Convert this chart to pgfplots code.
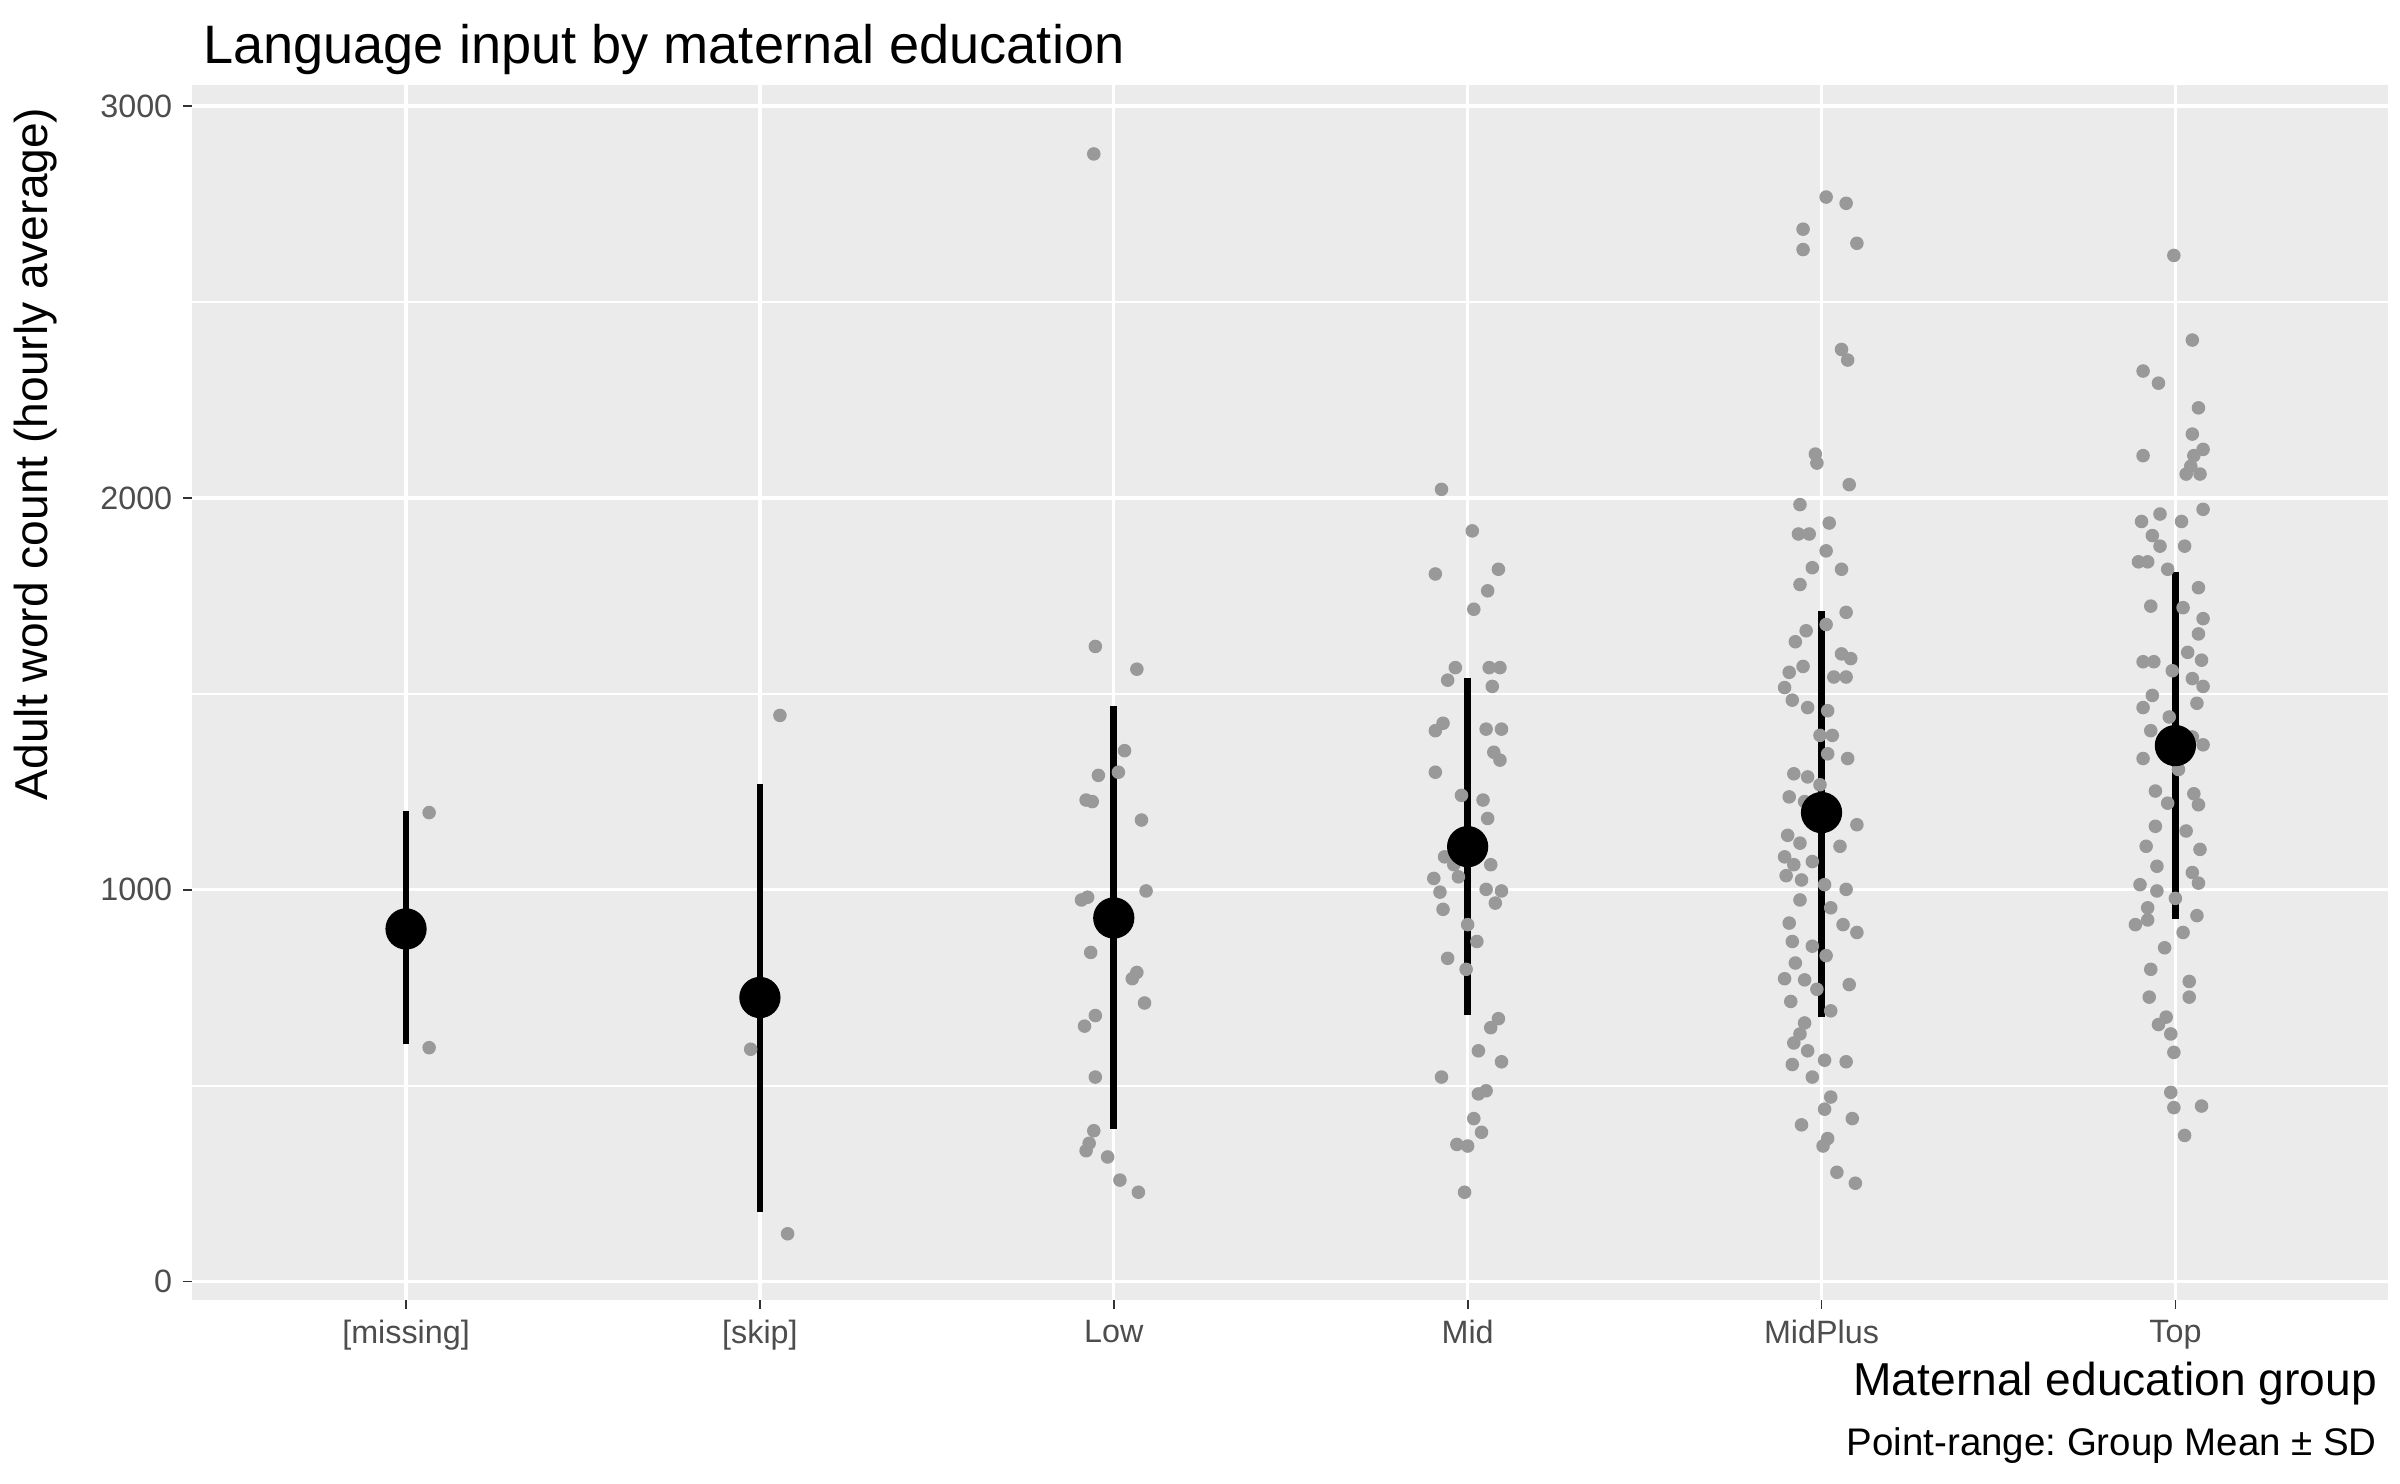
\documentclass[border=0pt]{standalone}
\usepackage{pgfplots}
\usepackage{pgfplotstable}
\pgfplotsset{compat=1.18}
\usepackage{fontspec}
\setmainfont{Liberation Sans}
\frenchspacing
\definecolor{panel}{HTML}{EBEBEB}
\definecolor{pts}{HTML}{999999}
\definecolor{tk}{HTML}{4D4D4D}
\pgfplotstableread{
g dx y
0 15 1197
0 15 597
1 13 1445
1 -6 593
1 18 122
2 -13 2878
2 -12 1621
2 15 1563
2 7 1355
2 3 1300
2 -10 1292
2 -18 1229
2 -14 1225
2 18 1178
2 21 997
2 -17 981
2 -21 974
2 -15 840
2 15 789
2 12 773
2 20 711
2 -12 679
2 -19 652
2 -12 522
2 -13 385
2 -16 353
2 -18 334
2 -4 318
2 4 259
2 16 228
3 -17 2022
3 3 1916
3 -21 1806
3 20 1818
3 13 1763
3 4 1716
3 -13 1535
3 -8 1567
3 14 1567
3 21 1567
3 16 1519
3 -16 1425
3 -21 1406
3 12 1410
3 22 1410
3 17 1351
3 21 1331
3 -21 1300
3 -4 1241
3 10 1229
3 13 1182
3 4 1135
3 -15 1084
3 -9 1064
3 15 1064
3 -22 1029
3 -6 1033
3 -18 994
3 12 1001
3 22 997
3 18 966
3 -16 950
3 0 911
3 6 868
3 -13 825
3 -1 797
3 20 671
3 15 648
3 7 589
3 22 561
3 -17 522
3 7 479
3 12 487
3 4 416
3 9 381
3 -7 350
3 0 346
3 -2 228
4 3 2768
4 16 2752
4 -12 2686
4 -12 2634
4 23 2650
4 13 2379
4 17 2352
4 -4 2112
4 -3 2089
4 18 2034
4 -14 1983
4 5 1936
4 -15 1908
4 -8 1908
4 3 1865
4 -6 1822
4 13 1818
4 -14 1779
4 16 1708
4 3 1677
4 -10 1661
4 -17 1633
4 13 1602
4 19 1590
4 -21 1555
4 -12 1570
4 8 1543
4 16 1543
4 -24 1516
4 -19 1484
4 -9 1465
4 4 1457
4 -1 1394
4 7 1394
4 4 1347
4 17 1335
4 -18 1296
4 -9 1288
4 -1 1268
4 -21 1237
4 -11 1225
4 4 1209
4 23 1166
4 -22 1139
4 -14 1119
4 12 1111
4 -24 1084
4 -18 1064
4 -6 1072
4 -23 1036
4 -13 1025
4 2 1013
4 16 1001
4 -14 974
4 6 954
4 -21 915
4 23 891
4 14 911
4 -19 868
4 -6 856
4 3 832
4 -17 813
4 -11 770
4 -24 773
4 18 758
4 -3 746
4 -20 715
4 6 691
4 -11 660
4 -14 632
4 -18 609
4 -9 589
4 2 565
4 16 561
4 -19 554
4 -6 522
4 6 471
4 2 440
4 20 416
4 -13 400
4 4 365
4 1 346
4 10 279
4 22 251
5 -1 2619
5 11 2403
5 -21 2324
5 -11 2293
5 15 2230
5 11 2163
5 18 2124
5 -21 2108
5 12 2108
5 10 2081
5 7 2061
5 16 2061
5 18 1971
5 -10 1959
5 -22 1940
5 4 1940
5 -15 1904
5 -10 1877
5 6 1877
5 -24 1837
5 -18 1837
5 -5 1818
5 15 1771
5 -16 1724
5 5 1720
5 18 1692
5 15 1653
5 8 1606
5 17 1586
5 -21 1582
5 -14 1582
5 -2 1559
5 11 1539
5 18 1519
5 -15 1496
5 14 1476
5 -21 1465
5 -4 1441
5 -16 1406
5 11 1390
5 18 1370
5 -21 1335
5 2 1307
5 -13 1252
5 12 1245
5 -5 1221
5 15 1217
5 -13 1162
5 7 1150
5 -19 1111
5 16 1103
5 -12 1060
5 11 1044
5 -23 1013
5 15 1017
5 -12 997
5 0 978
5 -18 954
5 14 934
5 -18 923
5 -26 911
5 5 891
5 -7 852
5 -16 797
5 9 766
5 9 726
5 -17 726
5 -6 675
5 -11 656
5 -3 632
5 -1 585
5 -3 483
5 -1 444
5 17 448
5 6 373
}\pts
\pgfplotstableread{
g m lo hi
0 900 607 1200
1 725 178 1270
2 928 390 1468
3 1110 680 1540
4 1197 675 1712
5 1368 925 1812
}\means
\begin{document}
\begin{tikzpicture}
\path[use as bounding box] (-62.5pt,-59.5pt) rectangle (717.5pt,422.5pt);
\begin{axis}[
  scale only axis, width=713.5pt, height=395pt,
  at={(0,0)}, anchor=south west,
  xmin=-0.604, xmax=5.6, ymin=-47, ymax=3055,
  axis line style={draw=none},
  axis background/.style={fill=panel},
  xtick={0,1,2,3,4,5},
  xticklabels={[missing],[skip],Low,Mid,MidPlus,Top},
  ytick={0,1000,2000,3000},
  minor ytick={500,1500,2500},
  xtick pos=bottom, ytick pos=left,
  grid=both,
  xmajorgrids=true, xminorgrids=false,
  major grid style={white, line width=1.1pt},
  minor grid style={white, line width=0.55pt},
  tick align=outside, major tick length=3pt, minor tick length=0pt,
  tick style={color=black!80, line width=0.55pt},
  every tick label/.append style={font=\fontsize{10.5}{12}\selectfont, text=tk},
  /pgf/number format/assume math mode=true,
  yticklabel style={/pgf/number format/1000 sep={}},
  clip=false,
]
\addplot[only marks, mark=*, mark size=2pt, color=pts, mark options={draw=none, fill=pts}]
  table[x expr=\thisrow{g}+\thisrow{dx}/230, y=y]{\pts};
\addplot[black, line width=2.2pt] coordinates {(0,607) (0,1200)};
\addplot[black, line width=2.2pt] coordinates {(1,178) (1,1270)};
\addplot[black, line width=2.2pt] coordinates {(2,390) (2,1468)};
\addplot[black, line width=2.2pt] coordinates {(3,680) (3,1540)};
\addplot[black, line width=2.2pt] coordinates {(4,675) (4,1712)};
\addplot[black, line width=2.2pt] coordinates {(5,925) (5,1812)};
\addplot[only marks, mark=*, mark size=6.5pt, black] table[x=g, y=m]{\means};
\end{axis}
\node[anchor=base west, font=\fontsize{17.6}{20}\selectfont] at (0pt,402pt) {Language input by maternal education};
\node[anchor=base, rotate=90, font=\fontsize{15}{17}\selectfont] at (-47pt,275pt) {Adult word count (hourly average)};
\node[anchor=base east, font=\fontsize{15}{17}\selectfont] at (713.5pt,-31pt) {Maternal education group};
\node[anchor=base east, font=\fontsize{12.5}{14}\selectfont] at (713.5pt,-50.5pt) {Point-range: Group Mean ± SD};
\end{tikzpicture}
\end{document}
